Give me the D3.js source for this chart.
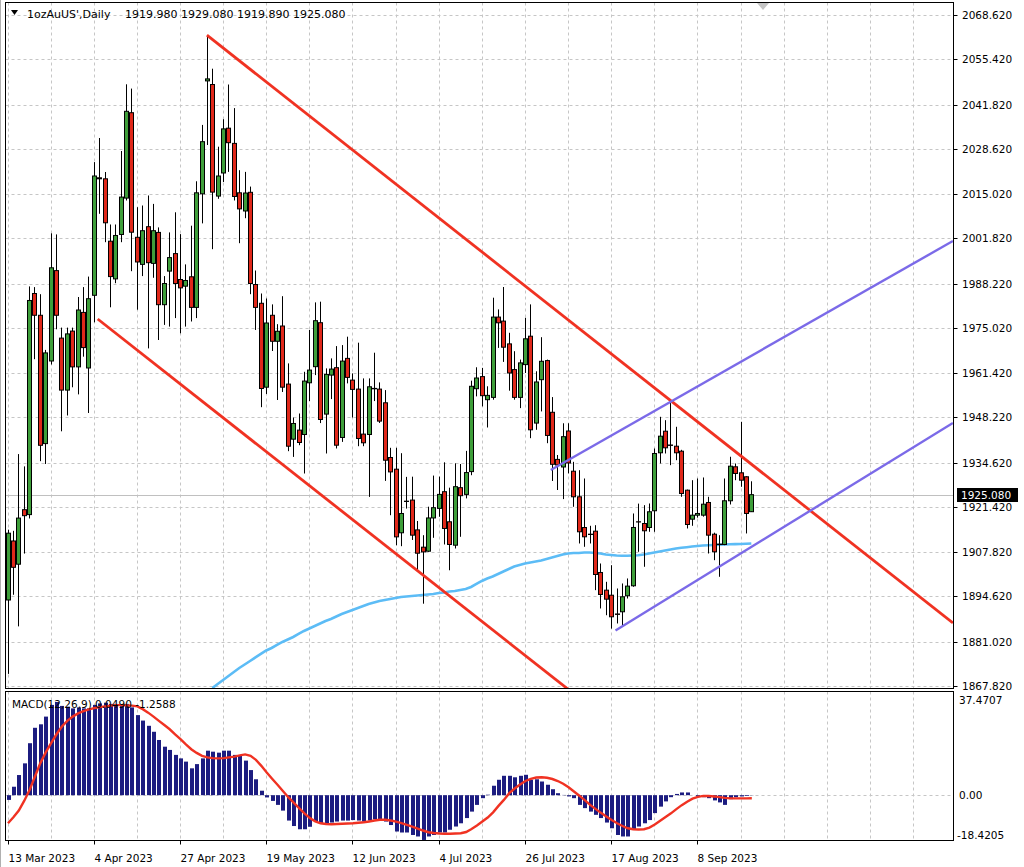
<!DOCTYPE html>
<html><head><meta charset="utf-8">
<script src="https://cdn.jsdelivr.net/npm/d3@7"></script>
<style>
html,body{margin:0;padding:0;background:#fff;}
svg{display:block;font-family:"DejaVu Sans",sans-serif;}
text{white-space:pre;}
</style></head><body>
<svg id="chart" width="1024" height="867"></svg>
<script>
const symbolName = "1ozAuUS'";
const timeframe = "Daily";
const opens = [1893.56,1911.22,1904.27,1920.58,1919.11,1985.28,1978.76,1940.36,1965.08,1992.13,
1971.93,1956.37,1974.03,1963.32,1979.62,1962.99,1984.74,2019.90,2019.60,2000.93,
1989.65,2002.94,2013.83,2039.38,2002.10,1993.99,2005.27,1994.29,2003.56,1981.93,
1991.98,1997.22,1989.47,1987.47,1990.28,1981.12,2015.11,2048.90,2047.82,2014.43,
2021.34,2034.75,2030.20,2015.41,2009.97,2015.56,1987.97,1982.35,1957.24,1978.76,
1970.98,1975.55,1958.17,1941.68,1944.40,1943.08,1958.56,1963.38,1976.54,1949.19,
1960.86,1963.08,1942.19,1965.86,1959.36,1956.67,1943.20,1943.08,1956.88,1956.67,
1952.57,1936.20,1932.70,1913.67,1923.13,1923.46,1914.54,1909.36,1908.16,1918.11,
1920.97,1925.97,1916.96,1909.96,1927.17,1925.16,1931.98,1956.79,1960.41,1953.50,
1954.19,1978.22,1977.02,1970.20,1962.51,1954.19,1964.00,1972.50,1946.50,1959.49,
1965.20,1949.73,1935.63,1933.36,1944.13,1932.10,1924.44,1915.25,1913.25,1914.15,
1901.79,1896.50,1894.99,1889.37,1890.03,1894.82,1897.81,1916.96,1916.45,1915.26,
1920.26,1937.61,1944.07,1939.94,1939.58,1938.09,1926.42,1917.74,1918.94,1918.94,
1922.74,1913.25,1910.26,1910.17,1923.25,1933.42,1931.62,1930.43,1919.98];
const highs = [1914.60,1914.26,1937.22,1933.54,1987.40,1987.19,1985.07,1968.40,2003.29,2002.96,
1975.07,1975.07,1975.07,1984.23,1987.19,1990.34,2024.60,2031.81,2021.64,2005.93,
2005.93,2027.92,2047.88,2046.60,2011.10,2011.61,2014.61,2012.09,2005.06,1990.49,
2003.56,2009.58,2003.05,1993.99,2005.57,2018.86,2035.73,2062.58,2052.55,2029.21,
2037.44,2047.82,2040.76,2022.18,2021.67,2017.27,1992.16,1985.28,1983.78,1982.02,
1976.10,1984.47,1964.36,1948.17,1949.37,1961.85,1974.36,1982.62,1982.83,1962.87,
1965.86,1969.54,1969.84,1972.35,1961.37,1970.56,1959.87,1959.87,1967.56,1958.68,
1956.37,1939.10,1939.10,1937.49,1930.40,1930.46,1917.20,1912.95,1921.48,1930.79,
1930.49,1934.76,1927.17,1934.46,1934.25,1938.18,1959.19,1963.20,1963.02,1957.51,
1984.02,1980.52,1987.22,1973.52,1968.01,1965.50,1978.00,1982.02,1962.00,1972.20,
1965.50,1954.28,1936.95,1946.44,1946.44,1934.90,1932.40,1929.92,1915.76,1915.94,
1904.48,1899.00,1903.97,1897.00,1898.50,1900.00,1919.45,1922.40,1921.93,1922.44,
1938.89,1948.38,1947.37,1952.87,1945.39,1938.50,1926.60,1929.41,1929.92,1930.22,
1924.44,1913.70,1912.95,1929.92,1936.42,1934.41,1946.88,1930.60,1929.08];
const lows = [1871.44,1895.12,1885.66,1907.45,1917.95,1965.62,1935.10,1934.26,1964.03,1974.57,
1944.04,1948.77,1957.21,1955.09,1966.37,1949.52,1976.66,2009.13,2000.63,1981.15,
1988.36,2000.63,2013.11,1991.95,1980.43,1990.49,1968.85,1989.98,1971.36,1975.88,
1975.37,1977.92,1973.37,1975.37,1976.90,1977.92,2006.26,2029.72,1998.54,2013.62,
2018.65,2021.67,2013.11,2000.33,2007.81,1985.07,1974.36,1951.26,1955.21,1968.07,
1953.41,1955.81,1938.09,1936.38,1939.88,1931.41,1953.08,1960.86,1946.50,1937.40,
1953.68,1938.90,1940.87,1958.38,1948.17,1939.58,1939.58,1924.41,1953.08,1946.53,
1929.20,1918.93,1909.93,1909.66,1920.91,1911.52,1902.24,1892.45,1907.95,1912.17,
1918.46,1910.17,1902.45,1908.97,1912.47,1923.96,1930.90,1954.49,1951.49,1945.18,
1953.50,1969.00,1964.81,1956.19,1953.50,1950.98,1961.49,1941.98,1944.49,1949.99,
1940.48,1929.17,1926.47,1923.75,1931.44,1921.45,1910.47,1909.48,1910.47,1896.50,
1891.02,1889.00,1884.99,1886.53,1885.53,1894.00,1897.51,1907.98,1903.50,1913.97,
1913.97,1934.41,1937.40,1933.90,1935.39,1924.44,1914.96,1915.76,1918.20,1918.50,
1907.47,1905.47,1900.50,1909.96,1922.14,1929.41,1927.43,1913.47,1919.89];
const closes = [1913.55,1903.34,1918.07,1918.79,1983.19,1978.76,1939.85,1967.50,1992.97,1978.76,
1956.37,1973.19,1963.32,1980.34,1969.09,1983.72,2020.44,2019.60,2006.44,1990.34,
2002.64,2014.13,2039.80,2003.62,1994.71,2004.07,1994.50,2004.07,1981.93,1988.27,
1996.02,1988.27,1986.96,1989.17,1981.12,2015.41,2030.71,2049.50,2015.62,2020.44,
2034.54,2030.41,2014.31,2010.60,2015.35,1988.27,1981.12,1956.85,1976.45,1970.98,
1973.97,1957.24,1939.58,1946.38,1940.69,1959.07,1962.36,1977.14,1947.57,1961.07,
1962.66,1939.88,1965.05,1960.17,1956.58,1941.89,1940.60,1957.36,1956.76,1947.09,
1935.39,1931.89,1912.45,1919.44,1923.04,1912.96,1907.56,1907.95,1918.11,1921.18,
1925.16,1914.96,1910.17,1927.47,1924.77,1931.69,1957.51,1959.99,1954.70,1954.79,
1978.22,1976.51,1969.21,1961.49,1954.19,1964.51,1971.72,1944.49,1958.80,1964.99,
1942.80,1934.17,1933.96,1942.43,1934.56,1924.44,1913.97,1912.47,1913.16,1901.19,
1895.21,1893.80,1888.53,1889.25,1894.52,1897.71,1915.26,1916.90,1914.27,1919.96,
1937.40,1942.58,1939.10,1939.82,1937.61,1925.43,1916.15,1918.94,1919.45,1922.23,
1912.96,1907.98,1910.17,1923.25,1933.60,1931.42,1929.41,1919.45,1925.08];
const maStart = 38;
const maValues = [1867.20,1868.42,1869.62,1870.82,1872.02,1873.21,1874.26,1875.31,1876.36,1877.41,1878.45,
1879.20,1880.10,1881.00,1881.75,1882.49,1883.39,1884.29,1885.04,1885.78,1886.53,
1887.28,1887.88,1888.63,1889.37,1889.97,1890.57,1891.17,1891.77,1892.37,1892.82,
1893.27,1893.56,1893.86,1894.16,1894.46,1894.61,1894.76,1894.91,1895.06,1895.21,
1895.36,1895.66,1895.81,1896.11,1896.26,1896.56,1896.86,1897.45,1898.35,1899.25,
1900.00,1900.60,1901.35,1902.10,1902.84,1903.59,1904.04,1904.49,1904.79,1905.09,
1905.39,1905.84,1906.29,1906.73,1907.18,1907.48,1907.63,1907.63,1907.78,1907.78,
1907.63,1907.48,1907.18,1907.03,1906.88,1906.79,1906.79,1906.88,1906.97,1907.18,
1907.48,1907.78,1908.08,1908.38,1908.68,1908.98,1909.18,1909.36,1909.57,1909.72,
1909.87,1909.96,1910.02,1910.11,1910.17,1910.23,1910.29,1910.32,1910.38,1910.47];
const macdHist = [-1.9,3.4,8.1,12.8,20.9,27.1,28.5,31.6,36.3,37.4707,
35.9,35.6,34.9,35.3,34.9,34.9,36.3,36.9,37.2,36.7,
36.7,36.3,36.7,35.3,32.2,30.0,27.9,25.5,22.2,19.5,
18.2,16.2,14.8,13.5,10.8,12.5,14.8,17.9,17.5,17.1,
17.9,17.9,16.2,15.8,13.9,10.1,6.4,1.8,-0.9,-2.3,
-3.9,-6.2,-10.2,-12.4,-13.7,-13.7,-12.7,-10.6,-11.3,-11.6,
-11.0,-10.6,-10.2,-10.2,-10.0,-10.2,-10.6,-10.2,-9.7,-10.0,
-10.6,-12.0,-14.6,-15.0,-15.0,-16.0,-16.6,-18.0,-16.6,-16.0,
-15.0,-15.0,-13.9,-12.6,-11.3,-9.2,-6.6,-3.9,-1.2,0.2,
3.8,6.2,7.8,7.8,7.2,7.8,8.2,6.2,6.4,5.5,
4.2,2.4,0.8,0.1,-0.5,-1.2,-3.9,-5.2,-6.6,-7.9,
-9.2,-11.0,-13.3,-16.0,-16.6,-16.6,-13.9,-12.6,-11.3,-10.0,
-7.2,-4.6,-2.5,-0.8,0.5,1.1,1.1,0.0,-0.5,-0.8,
-1.2,-2.1,-2.9,-3.9,-1.6,-0.8,-0.5,-0.3,0.0490];
const macdSignal = [-11.3,-8.9,-6.2,-2.3,2.1,7.5,12.9,17.2,20.9,24.5,
27.6,29.9,31.6,32.9,33.8,34.5,35.0,35.4,35.7,36.0,
36.2,36.2,36.1,36.0,35.7,34.6,33.2,31.6,29.9,28.2,
26.5,24.5,22.5,20.4,18.5,17.0,15.8,15.2,14.9,14.8,
14.9,15.2,15.5,16.0,16.4,15.8,14.2,11.8,9.1,6.6,
4.2,1.7,-0.8,-3.0,-5.2,-7.3,-9.2,-10.5,-11.3,-11.6,
-11.7,-11.6,-11.5,-11.4,-11.3,-11.1,-10.9,-10.6,-10.2,-9.9,
-9.9,-10.2,-10.6,-11.2,-11.9,-12.6,-13.4,-14.2,-14.9,-15.2,
-15.4,-15.5,-15.5,-15.4,-15.3,-14.8,-13.6,-12.2,-10.6,-9.0,
-6.9,-4.3,-1.9,0.8,2.7,4.3,5.7,6.6,7.1,7.2,
7.0,6.5,5.7,4.6,3.2,1.5,-0.2,-2.0,-3.9,-5.5,
-7.1,-8.6,-10.0,-11.3,-12.4,-13.3,-13.7,-13.8,-13.7,-13.0,
-11.8,-10.3,-8.8,-7.3,-5.6,-4.0,-2.6,-1.4,-0.7,-0.3,
-0.3,-0.5,-0.8,-1.1,-1.3,-1.3,-1.3,-1.3,-1.2588];
const priceTicks = [2068.620,2055.420,2041.820,2028.620,2015.020,2001.820,1988.220,1975.020,
1961.420,1948.220,1934.620,1921.420,1907.820,1894.620,1881.020,1867.820];
const macdTicks = [37.4707, 0.00, -18.4205];
const macdTickLabels = ["37.4707", "0.00", "-18.4205"];
const dateLabels = ["13 Mar 2023","4 Apr 2023","27 Apr 2023","19 May 2023","12 Jun 2023",
"4 Jul 2023","26 Jul 2023","17 Aug 2023","8 Sep 2023"];
const dateBars = [0,16,32,48,64,80,96,112,128];
// trend lines: [bar index, price]
const redUpperLine = [[37, 2062.58], [175.4, 1886.68]];
const redLowerLine = [[16.73, 1977.65], [175.4, 1776.22]];
const purpleUpperLine = [[100.8, 1932.46], [175.4, 2000.99]];
const purpleLowerLine = [[112.8, 1884.43], [175.4, 1946.53]];

const svg = d3.select("#chart");
const L = 5.5, R = 953.5, mainTop = 2.5, mainBottom = 688.5, macdTop = 691.5, macdBottom = 840.5;
const n = closes.length;
const x = d3.scaleLinear().domain([0, n - 1]).range([7.5, 7.5 + 5.39 * (n - 1)]);
const y = d3.scaleLinear().domain([1867.82, 2068.62]).range([686, 15]);
const ym = d3.scaleLinear().domain([-18.4205, 37.4707]).range([841, 702]);
const gridColor = "#c6c6c6";
const fontSize = "10.5px";

const defs = svg.append("defs");
defs.append("clipPath").attr("id","clipMain").append("rect")
  .attr("x", L + 0.5).attr("y", mainTop + 0.5).attr("width", R - L - 1).attr("height", mainBottom - mainTop - 1);
defs.append("clipPath").attr("id","clipMacd").append("rect")
  .attr("x", L + 0.5).attr("y", macdTop + 0.5).attr("width", R - L - 1).attr("height", macdBottom - macdTop - 1);

// outer window edge
svg.append("line").attr("x1",0.5).attr("x2",0.5).attr("y1",0).attr("y2",867).attr("stroke","#b0b0b0");

// grids
const gMainGrid = svg.append("g").attr("clip-path","url(#clipMain)");
priceTicks.forEach(p => {
  const yy = Math.round(y(p)) + 0.5;
  gMainGrid.append("line").attr("x1", L).attr("x2", R).attr("y1", yy).attr("y2", yy)
    .attr("stroke", gridColor).attr("stroke-dasharray", "3,3");
});
const vGridBars = d3.range(0, 176, 8);
vGridBars.forEach(b => {
  const xx = Math.round(x(b)) + 0.5;
  gMainGrid.append("line").attr("x1", xx).attr("x2", xx).attr("y1", mainTop).attr("y2", mainBottom)
    .attr("stroke", gridColor).attr("stroke-dasharray", "3,3");
});
const gMacdGrid = svg.append("g").attr("clip-path","url(#clipMacd)");
vGridBars.forEach(b => {
  const xx = Math.round(x(b)) + 0.5;
  gMacdGrid.append("line").attr("x1", xx).attr("x2", xx).attr("y1", macdTop).attr("y2", macdBottom)
    .attr("stroke", gridColor).attr("stroke-dasharray", "3,3");
});
gMacdGrid.append("line").attr("x1", L).attr("x2", R)
  .attr("y1", Math.round(ym(0)) + 0.5).attr("y2", Math.round(ym(0)) + 0.5)
  .attr("stroke", gridColor).attr("stroke-dasharray", "3,3");

// current price line
const lastClose = closes[n - 1];
const yCur = Math.round(y(lastClose)) + 0.5;
svg.append("line").attr("x1", L).attr("x2", R).attr("y1", yCur).attr("y2", yCur).attr("stroke", "#c0c0c0");

// main panel content
const gMain = svg.append("g").attr("clip-path","url(#clipMain)");
// moving average
const maData = maValues.map((v, k) => [maStart + k, v]);
gMain.append("path").datum(maData)
  .attr("d", d3.line().x(d => x(d[0])).y(d => y(d[1])))
  .attr("fill","none").attr("stroke","#5cbcf6").attr("stroke-width",2.6);

// candles
const green = "#3e9e3a", red = "#e0281a";
for (let i = 0; i < n; i++) {
  const cx = Math.round(x(i));
  const o = opens[i], c = closes[i], h = highs[i], l = lows[i];
  gMain.append("line").attr("x1", cx + 0.5).attr("x2", cx + 0.5)
    .attr("y1", y(h)).attr("y2", y(l)).attr("stroke", "#000").attr("stroke-width", 1);
  const top = y(Math.max(o, c)), bot = y(Math.min(o, c));
  gMain.append("rect").attr("x", cx - 1.5).attr("width", 4)
    .attr("y", top).attr("height", Math.max(0, bot - top))
    .attr("fill", c >= o ? green : red).attr("stroke", "#000").attr("stroke-width", 1);
}

// trend lines
const tl = d3.line().x(d => x(d[0])).y(d => y(d[1]));
[[redUpperLine, "#f03222", 2.8], [redLowerLine, "#f03222", 2.8],
 [purpleUpperLine, "#7b6ae8", 2.4], [purpleLowerLine, "#7b6ae8", 2.4]].forEach(([pts, col, w]) => {
  gMain.append("path").datum(pts).attr("d", tl).attr("fill","none").attr("stroke", col).attr("stroke-width", w);
});

// MACD panel
const gMacd = svg.append("g").attr("clip-path","url(#clipMacd)");
macdHist.forEach((v, i) => {
  const cx = Math.round(x(i));
  const y0 = ym(0), y1 = ym(v);
  gMacd.append("rect").attr("x", cx - 1).attr("width", 4)
    .attr("y", Math.min(y0, y1)).attr("height", Math.abs(y1 - y0))
    .attr("fill", "#1c1c80");
});
gMacd.append("path").datum(macdSignal.map((v, i) => [i, v]))
  .attr("d", d3.line().x(d => x(d[0]) + 0.5).y(d => ym(d[1])))
  .attr("fill","none").attr("stroke","#f03222").attr("stroke-width",2.4);

// frames
svg.append("rect").attr("x", L).attr("y", mainTop).attr("width", R - L).attr("height", mainBottom - mainTop)
  .attr("fill","none").attr("stroke","#000");
svg.append("rect").attr("x", L).attr("y", macdTop).attr("width", R - L).attr("height", macdBottom - macdTop)
  .attr("fill","none").attr("stroke","#000");

// shift marker
svg.append("path").attr("d","M757,3 L769,3 L763,10 Z").attr("fill","#c4c4c4");

// price axis labels
priceTicks.forEach(p => {
  const yy = Math.round(y(p)) + 0.5;
  svg.append("line").attr("x1", R).attr("x2", R + 4).attr("y1", yy).attr("y2", yy).attr("stroke","#000");
  svg.append("text").attr("x", 962).attr("y", yy).attr("dy","0.36em")
    .attr("font-size", fontSize).attr("fill","#000").text(p.toFixed(3));
});
// current price box
svg.append("rect").attr("x", 957).attr("y", yCur - 7.5).attr("width", 61).attr("height", 14).attr("fill","#000");
svg.append("text").attr("x", 961).attr("y", yCur).attr("dy","0.36em")
  .attr("font-size", fontSize).attr("fill","#fff").text(lastClose.toFixed(3));

// MACD axis labels
macdTicks.forEach((v, k) => {
  let yy = ym(v);
  if (k === 0) yy = macdTop + 9;
  if (k === 2) yy = macdBottom - 5;
  svg.append("text").attr("x", k === 2 ? 957 : 959).attr("y", yy).attr("dy","0.36em")
    .attr("font-size", fontSize).attr("fill","#000").text(macdTickLabels[k]);
});

// date axis
dateBars.forEach((b, k) => {
  const xx = Math.round(x(b)) + 0.5;
  svg.append("line").attr("x1", xx).attr("x2", xx).attr("y1", macdBottom).attr("y2", macdBottom + 4).attr("stroke","#000");
  svg.append("text").attr("x", xx).attr("y", 858).attr("dy","0.36em")
    .attr("font-size", fontSize).attr("fill","#000").text(dateLabels[k]);
});

// header
svg.append("path").attr("d","M11,10 L18,10 L14.5,15 Z").attr("fill","#000");
svg.append("text").attr("x", 27).attr("y", 14).attr("dy","0.36em").attr("font-size", "11px").attr("fill","#000")
  .text(`${symbolName},${timeframe}`);
svg.append("text").attr("x", 125).attr("y", 14).attr("dy","0.36em").attr("font-size", "11px").attr("fill","#000")
  .text(`${opens[n-1].toFixed(3)} ${highs[n-1].toFixed(3)} ${lows[n-1].toFixed(3)} ${closes[n-1].toFixed(3)}`);
svg.append("text").attr("x", 12).attr("y", 704).attr("dy","0.36em").attr("font-size", fontSize).attr("fill","#000")
  .text(`MACD(12,26,9) ${macdHist[n-1].toFixed(4)} ${macdSignal[n-1].toFixed(4)}`);
</script>
</body></html>
